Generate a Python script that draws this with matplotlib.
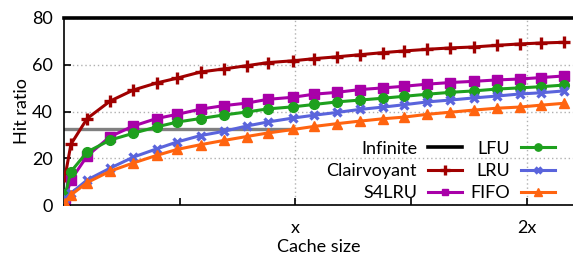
import numpy as np
import matplotlib
matplotlib.use("Agg")
import matplotlib.pyplot as plt

plt.rcParams['font.family'] = ['Lato', 'DejaVu Sans']

# cache size, in units of "x"
size = [0.005, 0.03, 0.10, 0.20, 0.30, 0.40, 0.49, 0.59, 0.69, 0.79, 0.88, 0.99,
        1.08, 1.18, 1.28, 1.38, 1.47, 1.57, 1.67, 1.77, 1.87, 1.97, 2.06, 2.16]

infinite = 80
baseline = 32.3   # grey reference line, drawn up to x
clairvoyant = [12.4, 26.0, 37.0, 44.5, 49.2, 52.2, 54.3, 56.9, 58.2, 59.6, 60.9, 61.7,
               62.6, 63.4, 64.3, 65.2, 65.9, 66.6, 67.2, 67.6, 68.3, 68.9, 69.3, 69.6]
s4lru = [3.0, 10.7, 21.0, 29.3, 33.8, 37.0, 38.8, 41.0, 42.5, 43.6, 45.2, 46.1,
         47.4, 48.2, 49.4, 50.1, 50.8, 51.7, 52.4, 52.9, 53.5, 53.9, 54.5, 55.2]
lfu = [4.5, 14.3, 22.7, 27.8, 30.7, 33.4, 35.5, 37.0, 38.5, 39.8, 41.1, 42.0,
       43.0, 44.1, 44.9, 45.7, 46.5, 47.4, 48.2, 48.8, 49.6, 50.1, 50.6, 51.3]
lru = [3.0, 5.0, 10.7, 15.8, 20.5, 24.0, 27.0, 29.7, 31.5, 33.8, 35.5, 37.2,
       38.4, 39.6, 40.9, 41.9, 42.9, 44.1, 44.9, 45.8, 46.6, 47.5, 48.0, 48.8]
fifo = [1.0, 4.3, 9.6, 14.5, 18.0, 21.2, 23.8, 25.8, 27.6, 29.3, 30.8, 32.3,
        33.6, 34.8, 35.9, 36.9, 37.6, 38.8, 39.7, 40.6, 41.4, 41.9, 42.7, 43.5]

fig = plt.figure(figsize=(5.73, 2.58), dpi=100)
ax = fig.add_axes([64/573, 1-205/258, 1-64/573, (205-18)/258])

ax.plot([0, 2.2], [infinite, infinite], color="black", lw=2.6, label="Infinite",
        clip_on=False, zorder=5)
ax.plot([0, 0.99], [baseline, baseline], color="#808080", lw=2.4, zorder=2)

lw = 2.2
ax.plot(size, clairvoyant, color="#a00000", lw=lw, marker="+", ms=9, mew=2.4,
        label="Clairvoyant", zorder=3)
ax.plot(size, s4lru, color="#a800a8", lw=lw, marker="s", ms=6.5, label="S4LRU", zorder=3)
ax.plot(size, lfu, color="#1ea01e", lw=lw, marker="o", ms=7, label="LFU", zorder=3)
ax.plot(size, lru, color="#5a64dc", lw=lw, marker="x", ms=6, mew=2.4, label="LRU", zorder=3)
ax.plot(size, fifo, color="#ff6410", lw=lw, marker="^", ms=7, label="FIFO", zorder=3)

ax.set_xlim(0, 2.2)
ax.set_ylim(0, 80)
ax.set_yticks([0, 20, 40, 60, 80])
ax.set_xticks([1, 2])
ax.set_xticklabels(["x", "2x"])
ax.set_xticks([0.5, 1.5], minor=True)
ax.tick_params(axis="both", which="both", direction="in", length=5, width=1.2,
               labelsize=13)
ax.tick_params(axis="x", which="major", pad=11)
ax.tick_params(axis="y", which="major", pad=8)
ax.tick_params(axis="x", which="both", top=False)
ax.tick_params(axis="y", right=False)

ax.grid(True, which="major", color="#b0b0b0", ls=(0, (1, 2)), lw=1)
ax.spines["top"].set_visible(False)
ax.spines["right"].set_visible(False)
ax.spines["left"].set_linewidth(1.2)
ax.spines["bottom"].set_linewidth(1.2)

ax.set_ylabel("Hit ratio", fontsize=13)
ax.set_xlabel("Cache size", fontsize=13)
ax.yaxis.set_label_coords(-0.082, 0.5)
ax.xaxis.set_label_coords(0.5, -0.225)
ax.xaxis.label.set_va("center")
ax.yaxis.label.set_va("center")

ax.legend(ncol=2, markerfirst=False, frameon=False, fontsize=13,
          loc="lower right", bbox_to_anchor=(0.965, 0.02), borderpad=0,
          borderaxespad=0, handlelength=1.9, handletextpad=0.6,
          columnspacing=0.45, labelspacing=0.35, markerscale=0.75)

fig.savefig("out.png", dpi=100)
